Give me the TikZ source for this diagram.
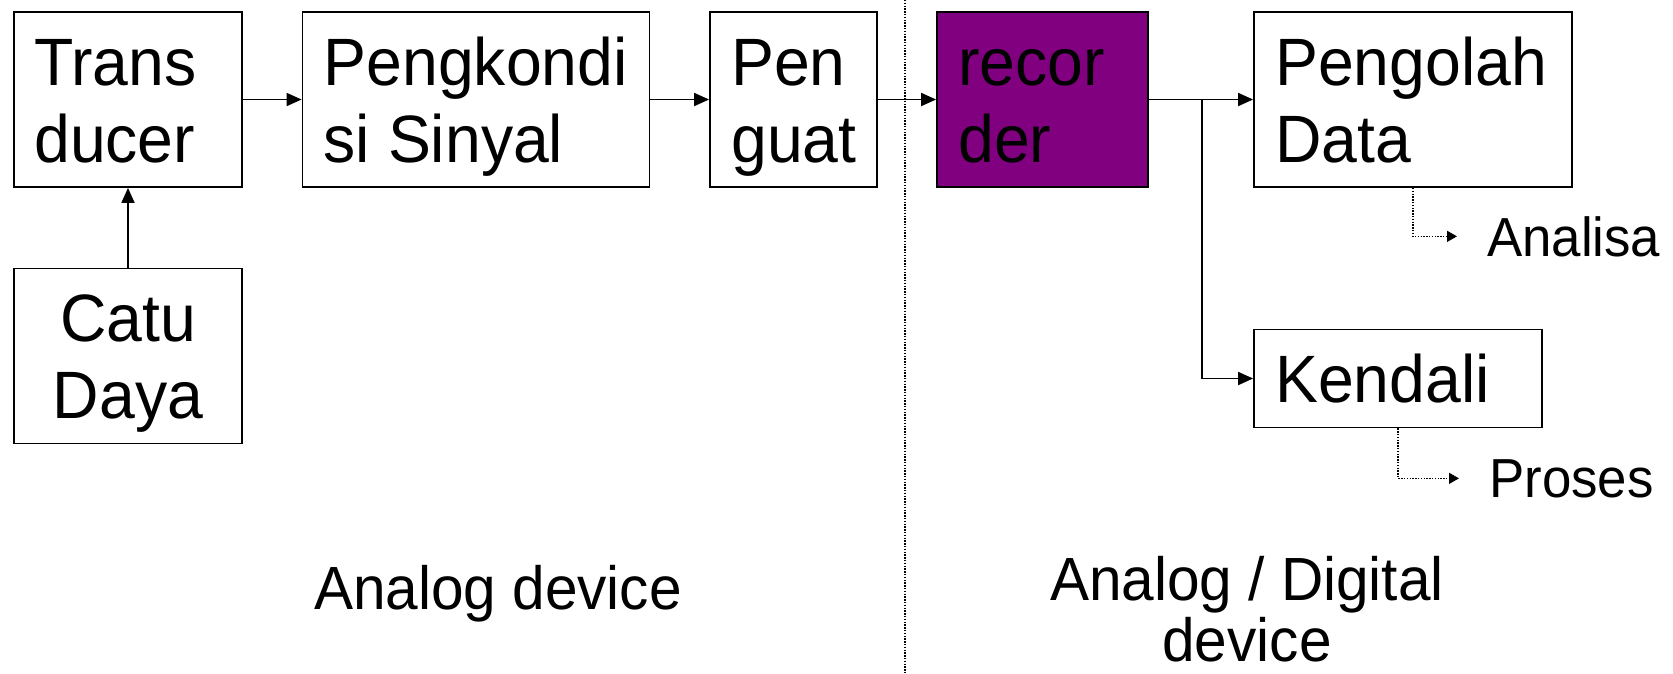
\documentclass[tikz,border=0pt]{standalone}
\usepackage{fontspec}
\setmainfont[FakeStretch=0.96]{Liberation Sans}
\usetikzlibrary{arrows.meta}
\definecolor{recpurple}{RGB}{128,0,128}
% strut that fixes line height/depth inside the boxes
\newcommand{\lstrut}{\rule[-14pt]{0pt}{62pt}}
\tikzset{
  blk/.style={draw=black, line width=1.8pt, fill=white, inner sep=0pt, minimum height=175pt},
  blktxt/.style={inner sep=0pt, align=left, yshift=-7pt, font=\fontsize{67}{77}\selectfont},
  ctrtxt/.style={inner sep=0pt, align=center, yshift=-7pt, font=\fontsize{67}{77}\selectfont},
  flow/.style={line width=1.8pt, -{Triangle[length=15pt,width=13pt]}},
  dotflow/.style={line width=1.4pt, dash pattern=on 1.4pt off 1.4pt, -{Triangle[length=10pt,width=11pt]}},
  outtxt/.style={inner xsep=30pt, inner ysep=0pt, font=\fontsize{55}{60}\selectfont},
  captxt/.style={inner sep=0pt, font=\fontsize{61}{61}\selectfont},
}
\begin{document}
\begin{tikzpicture}[x=1pt, y=-1pt]
\useasboundingbox (0,0) rectangle (1673,673);

% divider between the analog and analog/digital parts
\coordinate (dtop) at (905,0);
\coordinate (dbot) at (905,673);
\draw[line width=1.4pt, dash pattern=on 1.4pt off 1.4pt] (dtop) -- (dbot);

% blocks of the chain
\node[blk, minimum width=228pt] (trans) at (128,99.5) {};
\node[blktxt, anchor=west] (transL) at ([xshift=21pt]trans.west) {\lstrut Trans\\\lstrut ducer};

\node[blk, minimum width=347pt] (kond) at (476,99.5) {};
\node[blktxt, anchor=west] (kondL) at ([xshift=22pt]kond.west) {\lstrut Pengkondi\\\lstrut si Sinyal};

\node[blk, minimum width=167pt] (guat) at (793.5,99.5) {};
\node[blktxt, anchor=west] (guatL) at ([xshift=22pt]guat.west) {\lstrut Pen\\\lstrut guat};

\node[blk, fill=recpurple, minimum width=211pt] (rec) at (1042.5,99.5) {};
\node[blktxt, anchor=west] (recL) at ([xshift=22pt]rec.west) {\lstrut recor\\\lstrut der};

\node[blk, minimum width=318pt] (olah) at (1413,99.5) {};
\node[blktxt, anchor=west] (olahL) at ([xshift=22pt]olah.west) {\lstrut Pengolah\\\lstrut Data};

\node[blk, minimum width=288pt, minimum height=98pt] (kend) at (1398,378.5) {};
\node[blktxt, anchor=west] (kendL) at ([xshift=22pt]kend.west) {\lstrut Kendali};

\node[blk, minimum width=228pt] (catu) at (128,356) {};
\node[ctrtxt] (catuL) at (catu.center) {\lstrut Catu\\\lstrut Daya};

% outputs
\node[outtxt, anchor=base west] (anl) at (1457,256) {Analisa};
\node[outtxt, anchor=base west] (pros) at (1459,497) {Proses};

% connectors
\draw[flow] (catu.north) -- (trans.south);
\draw[flow] (trans.east) -- (kond.west);
\draw[flow] (kond.east) -- (guat.west);
\draw[flow] (guat.east) -- (rec.west);
\draw[flow] (rec.east) -- (olah.west);
\coordinate (split) at (1202,99.5);
\draw[flow] (split) |- (kend.west);
\draw[dotflow] (olah.south) |- (anl.west);
\draw[dotflow] (kend.south) |- (pros.west);

% captions
\node[captxt, anchor=base] (capA) at (498,609) {Analog device};
\node[captxt, anchor=base] (capB) at (1247,600) {Analog / Digital};
\node[captxt, anchor=base] (capC) at (1247,661) {device};
\end{tikzpicture}
\end{document}
